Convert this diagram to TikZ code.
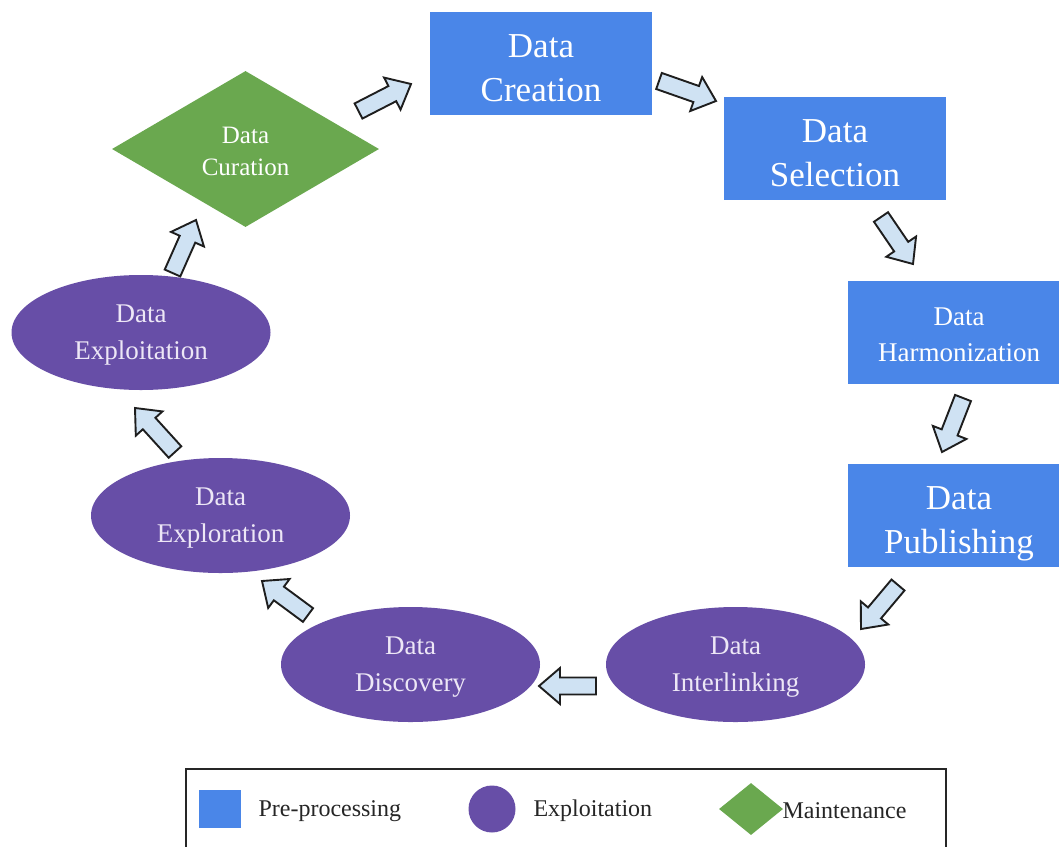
\documentclass[tikz,border=0pt]{standalone}
\usepackage{fontspec}
\setmainfont{Liberation Serif}
\usetikzlibrary{shapes.geometric,calc}
\definecolor{pblue}{HTML}{4A86E8}
\definecolor{ppurple}{HTML}{674EA7}
\definecolor{pgreen}{HTML}{6AA84F}
\definecolor{afill}{HTML}{CFE2F3}
\definecolor{aline}{HTML}{1E1E1E}
\definecolor{lav}{HTML}{EDE7F6}
\newcommand\blockarrow[2]{%
  \coordinate (hb) at ($(#2)!21pt!(#1)$);
  \draw[barrowstyle] ($(#1)!8.5pt!90:(#2)$) -- ($(hb)!8.5pt!90:(#2)$) -- ($(hb)!18pt!90:(#2)$) -- (#2)
    -- ($(hb)!18pt!-90:(#2)$) -- ($(hb)!8.5pt!-90:(#2)$) -- ($(#1)!8.5pt!-90:(#2)$) -- cycle;
}
\tikzset{
  barrowstyle/.style={fill=afill, draw=aline, line width=1.9pt, line join=miter},
  prebox/.style={rectangle, fill=pblue, minimum width=222pt, minimum height=103pt, inner sep=0pt},
  expell/.style={ellipse, fill=ppurple, minimum width=259pt, minimum height=115pt, inner sep=0pt},
  maintdia/.style={diamond, fill=pgreen, minimum width=267pt, minimum height=156pt, aspect=1.71, inner sep=0pt},
  bigtxt/.style={text=white, align=center, inner sep=0pt, font=\fontsize{35}{44}\selectfont},
  midtxt/.style={text=white, align=center, inner sep=0pt, font=\fontsize{27}{36}\selectfont},
  elltxt/.style={text=lav, align=center, inner sep=0pt, font=\fontsize{27}{37}\selectfont},
  diatxt/.style={text=white, align=center, inner sep=0pt, font=\fontsize{25}{32}\selectfont},
  legtxt/.style={anchor=west, text=black!85, font=\fontsize{24}{28}\selectfont},
}
\begin{document}
\begin{tikzpicture}[x=1pt,y=-1pt]
\useasboundingbox (0,0) rectangle (1059,846);
\clip (0,0) rectangle (1059,846);
\fill[white] (0,0) rectangle (1059,846);

% stage shapes
\node[prebox] (creation) at (541,63.5) {};
\node[prebox] (selection) at (835,148.5) {};
\node[prebox] (harmon) at (959,332) {};
\node[prebox] (publish) at (959,515.5) {};
\node[expell] (interlink) at (735.5,664.5) {};
\node[expell] (discovery) at (410.5,664.5) {};
\node[expell] (exploration) at (220.5,515.5) {};
\node[expell] (exploitation) at (141,332.5) {};
\node[maintdia] (curation) at (245.5,149) {};

% stage labels
\node[bigtxt, yshift=-5pt] (creationtxt) at (creation) {Data\\Creation};
\node[bigtxt, yshift=-5pt] (selectiontxt) at (selection) {Data\\Selection};
\node[midtxt, yshift=-3pt] (harmontxt) at (harmon) {Data\\Harmonization};
\node[bigtxt, yshift=-8pt] (publishtxt) at (publish) {Data\\Publishing};
\node[elltxt, yshift=-3pt] (interlinktxt) at (interlink) {Data\\Interlinking};
\node[elltxt, yshift=-3pt] (discoverytxt) at (discovery) {Data\\Discovery};
\node[elltxt, yshift=-3pt] (explorationtxt) at (exploration) {Data\\Exploration};
\node[elltxt, yshift=-3pt] (exploitationtxt) at (exploitation) {Data\\Exploitation};
\node[diatxt, yshift=-2pt] (curationtxt) at (curation) {Data\\Curation};

% arrow end points
\coordinate (t1) at (172.5,273); \coordinate (h1) at (196,220);
\coordinate (t2) at (358.5,111);   \coordinate (h2) at (411,84);
\coordinate (t3) at (659,81);      \coordinate (h3) at (716,101);
\coordinate (t4) at (881,217);     \coordinate (h4) at (913,264);
\coordinate (t5) at (963,398);     \coordinate (h5) at (942,452);
\coordinate (t6) at (898,585);     \coordinate (h6) at (861,629);
\coordinate (t7) at (596,686);     \coordinate (h7) at (539,686);
\coordinate (t8) at (308,615);     \coordinate (h8) at (262,581);
\coordinate (t9) at (175,452);     \coordinate (h9) at (135,408);

\blockarrow{t1}{h1}
\blockarrow{t2}{h2}
\blockarrow{t3}{h3}
\blockarrow{t4}{h4}
\blockarrow{t5}{h5}
\blockarrow{t6}{h6}
\blockarrow{t7}{h7}
\blockarrow{t8}{h8}
\blockarrow{t9}{h9}

% legend
\draw[line width=1.5pt, draw=black!85] (186,769) rectangle (946,880);
\node[rectangle, fill=pblue, minimum width=42pt, minimum height=38pt, inner sep=0pt] (lsq) at (220,809) {};
\node[legtxt] (lpre) at (255,811) {Pre-processing};
\node[circle, fill=ppurple, minimum size=47pt, inner sep=0pt] (lcirc) at (492,809) {};
\node[legtxt] (lexp) at (530,811) {Exploitation};
\node[diamond, fill=pgreen, minimum width=64pt, minimum height=52pt, aspect=1.2, inner sep=0pt] (ldia) at (751,809) {};
\node[legtxt] (lmain) at (779,811) {Maintenance};
\end{tikzpicture}
\end{document}
